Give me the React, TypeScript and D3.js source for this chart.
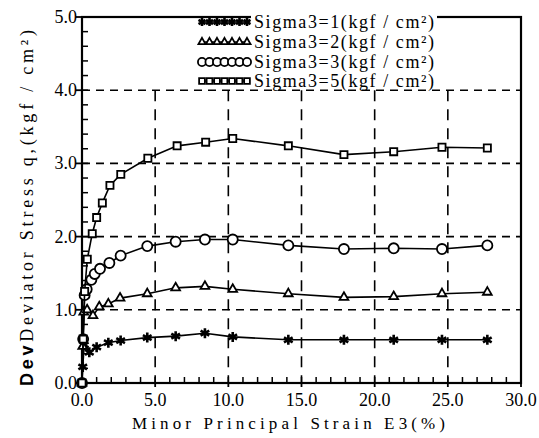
import React from 'react';
import * as d3 from 'd3';

// strain E3 (%) / deviator stress q (kgf/cm2)
const sigma1 = [
  [0, 0], [0.05, 0.22], [0.15, 0.52], [0.5, 0.42], [1.0, 0.49], [1.8, 0.55], [2.64, 0.58],
  [4.46, 0.62], [6.4, 0.64], [8.4, 0.68], [10.3, 0.63], [14.1, 0.59], [17.9, 0.59],
  [21.3, 0.59], [24.6, 0.59], [27.7, 0.59],
];
const sigma2 = [
  [0, 0], [0.05, 0.5], [0.12, 0.97], [0.35, 1.0], [0.75, 0.92], [1.18, 1.04], [1.8, 1.08],
  [2.6, 1.16], [4.46, 1.22], [6.4, 1.3], [8.4, 1.32], [10.3, 1.28], [14.1, 1.22],
  [17.9, 1.17], [21.3, 1.18], [24.6, 1.22], [27.7, 1.24],
];
const sigma3 = [
  [0, 0], [0.08, 0.6], [0.18, 1.2], [0.32, 1.28], [0.64, 1.41], [0.87, 1.49], [1.23, 1.56],
  [1.87, 1.64], [2.64, 1.74], [4.46, 1.87], [6.4, 1.93], [8.4, 1.96], [10.3, 1.96],
  [14.1, 1.88], [17.9, 1.83], [21.3, 1.84], [24.6, 1.83], [27.7, 1.88],
];
const sigma5 = [
  [0, 0], [0.08, 0.6], [0.18, 1.25], [0.36, 1.69], [0.7, 2.04], [1.0, 2.26], [1.39, 2.46],
  [1.91, 2.7], [2.65, 2.85], [4.5, 3.07], [6.5, 3.24], [8.45, 3.29], [10.3, 3.34],
  [14.1, 3.24], [17.9, 3.12], [21.3, 3.16], [24.6, 3.22], [27.7, 3.21],
];
const seriesNames = [
  'Sigma3=1(kgf / cm²)',
  'Sigma3=2(kgf / cm²)',
  'Sigma3=3(kgf / cm²)',
  'Sigma3=5(kgf / cm²)',
];
const xTicks = [0, 5, 10, 15, 20, 25, 30];
const yTicks = [0, 1, 2, 3, 4, 5];

const App = () => {
  const x = d3.scaleLinear().domain([0, 30]).range([82, 521]);
  const y = d3.scaleLinear().domain([0, 5]).range([383, 17]);
  const line = d3.line().x((d: any) => x(d[0])).y((d: any) => y(d[1]));

  const series = [
    { data: sigma1, sym: d3.symbolAsterisk, size: 70, fill: 'black', sw: 2.6 },
    { data: sigma2, sym: d3.symbolTriangle2, size: 55, fill: 'white', sw: 1.8 },
    { data: sigma3, sym: d3.symbolCircle, size: 80, fill: 'white', sw: 1.8 },
    { data: sigma5, sym: d3.symbolSquare2, size: 65, fill: 'white', sw: 1.8 },
  ];

  const xMinor = d3.range(1, 30);
  const yMinor = d3.range(1, 25).map((i) => i * 0.2);

  const legendRows = [22, 42, 62, 81];

  return (
    <svg width={539} height={438}
      style={{ position: 'fixed', left: 0, top: 0, fontFamily: '"Liberation Serif"' }}>
      <style>{'.t { font-family: "Liberation Serif", "Times New Roman", serif; }'}</style>
      <rect x={0} y={0} width={539} height={438} fill="white" />

      {/* grid: horizontal lines full width, vertical up to 4.0 */}
      {yTicks.slice(1, 5).map((t) => (
        <line key={'gy' + t} x1={x(0)} x2={x(30)} y1={y(t)} y2={y(t)}
          stroke="black" strokeWidth={1.6} strokeDasharray="8,6" />
      ))}
      {xTicks.slice(1, 6).map((t) => (
        <line key={'gx' + t} x1={x(t)} x2={x(t)} y1={y(4)} y2={y(0)}
          stroke="black" strokeWidth={1.6} strokeDasharray="11,8" />
      ))}

      {/* minor ticks */}
      {xMinor.map((t) => (
        <line key={'mx' + t} x1={x(t)} x2={x(t)} y1={y(0)} y2={y(0) - 6} stroke="black" strokeWidth={1.5} />
      ))}
      {yMinor.map((t) => (
        <line key={'my' + t} x1={x(0)} x2={x(0) + 6} y1={y(t)} y2={y(t)} stroke="black" strokeWidth={1.5} />
      ))}
      {yTicks.map((t) => (
        <line key={'My' + t} x1={x(0) - 6} x2={x(0)} y1={y(t)} y2={y(t)} stroke="black" strokeWidth={1.8} />
      ))}
      {xTicks.map((t) => (
        <line key={'Mx' + t} x1={x(t)} x2={x(t)} y1={y(0)} y2={y(0) + 4} stroke="black" strokeWidth={1.8} />
      ))}

      {/* frame */}
      <rect x={x(0)} y={y(5)} width={x(30) - x(0)} height={y(0) - y(5)}
        fill="none" stroke="black" strokeWidth={2.2} />

      {/* curves */}
      {series.map((s, i) => (
        <g key={'s' + i}>
          <path d={line(s.data as any) || ''} fill="none" stroke="black" strokeWidth={1.6} />
          {s.data.map((d, j) => (
            <path key={j} transform={`translate(${x(d[0])},${y(d[1])})`}
              d={d3.symbol(s.sym, s.size)() || ''} fill={s.fill} stroke="black" strokeWidth={s.sw} />
          ))}
        </g>
      ))}

      {/* legend */}
      <rect x={251} y={8} width={186} height={80} fill="white" />
      {series.map((s, i) => (
        <g key={'l' + i}>
          <line x1={200} x2={250} y1={legendRows[i]} y2={legendRows[i]} stroke="black" strokeWidth={1.6} />
          {d3.range(7).map((k) => (
            <path key={k} transform={`translate(${202 + k * 7.5},${legendRows[i]})`}
              d={d3.symbol(s.sym, s.size * 0.65)() || ''} fill={s.fill} stroke="black" strokeWidth={s.sw} />
          ))}
          <text className="t" x={254} y={legendRows[i] + 6} fontSize={18}
            textLength={180} lengthAdjust="spacing">{seriesNames[i]}</text>
        </g>
      ))}

      {/* tick labels */}
      {xTicks.map((t) => (
        <text className="t" key={'xl' + t} x={x(t)} y={406} textAnchor="middle" fontSize={18}>
          {t.toFixed(1)}
        </text>
      ))}
      {yTicks.map((t) => (
        <text className="t" key={'yl' + t} x={77} y={y(t) + 6} textAnchor="end" fontSize={18}>
          {t.toFixed(1)}
        </text>
      ))}

      {/* axis titles */}
      <text className="t" x={132} y={429} fontSize={17} textLength={313} lengthAdjust="spacing">
        Minor Principal Strain E3(%)
      </text>
      <text className="t" transform="translate(33,386) rotate(-90)" fontSize={18} textLength={356} lengthAdjust="spacing">
        <tspan style={{ fontFamily: '"Liberation Sans"' }} fontWeight="bold">Dev</tspan>
        <tspan>Deviator Stress q,(kgf / cm²)</tspan>
      </text>
    </svg>
  );
};

export default App;
